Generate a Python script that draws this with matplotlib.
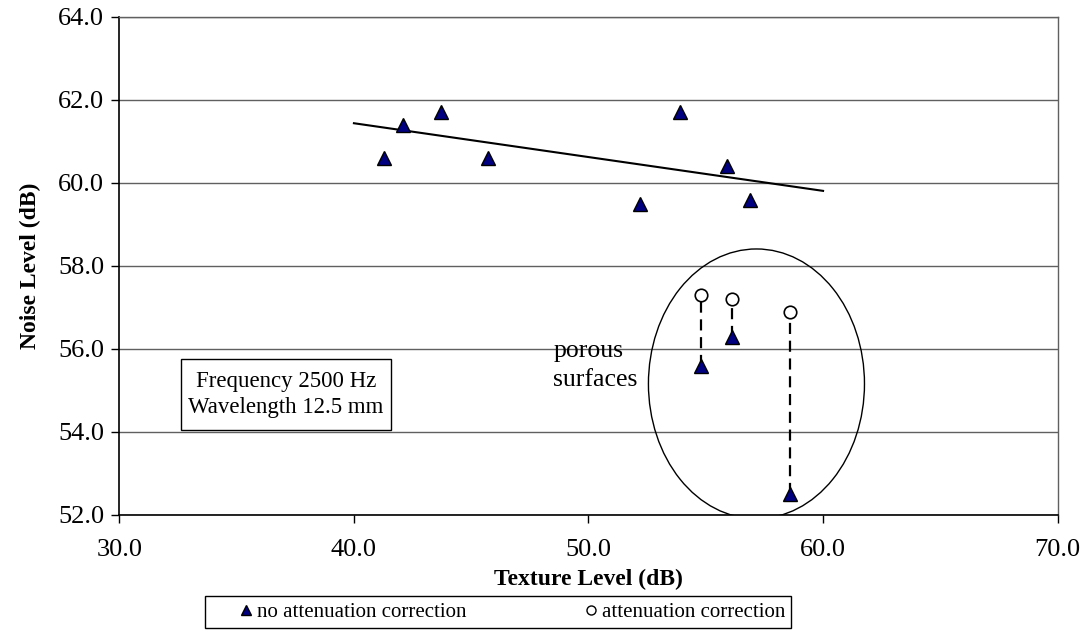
import numpy as np
import matplotlib.pyplot as plt
from matplotlib.patches import Ellipse, Rectangle
from matplotlib.lines import Line2D

plt.rcParams['font.family'] = ['Liberation Serif', 'DejaVu Serif']

# dense surfaces
texture = [41.3, 42.1, 43.7, 45.7, 52.2, 53.9, 55.9, 56.9]
noise = [60.6, 61.4, 61.7, 60.6, 59.5, 61.7, 60.4, 59.6]

# porous surfaces, measured and with attenuation correction
porous_texture = [54.8, 56.1, 58.6]
porous_noise = [55.6, 56.3, 52.5]
porous_noise_corr = [57.3, 57.2, 56.9]

# trend line for the dense surfaces
trend_x = [40.0, 60.0]
trend_y = [61.44, 59.81]

navy = '#000080'

fig = plt.figure(figsize=(10.88, 6.39), dpi=100)
ax = fig.add_axes([0.1097, 0.1941, 0.8624, 0.7793])

ax.set_xlim(30, 70)
ax.set_ylim(52, 64)
ax.set_xticks(np.arange(30, 71, 10))
ax.set_yticks(np.arange(52, 65, 2))
ax.xaxis.set_major_formatter('{x:.1f}')
ax.yaxis.set_major_formatter('{x:.1f}')
ax.tick_params(direction='out', length=6, width=1, colors='black', labelsize=19)
ax.tick_params(axis='x', pad=11.5)
ax.tick_params(axis='y', pad=5)

ax.grid(axis='y', color='#606060', lw=1.0, zorder=0)
for s in ['left', 'bottom']:
    ax.spines[s].set_linewidth(1.2)
for s in ['top', 'right']:
    ax.spines[s].set_color('#606060')
    ax.spines[s].set_linewidth(1.0)

# porous group
ax.add_patch(Ellipse((57.16, 55.16), 9.21, 6.5, fill=False, ec='black', lw=1.0, zorder=2))
ax.text(48.5, 55.6, 'porous\nsurfaces', ha='left', va='center', fontsize=18.5, linespacing=1.45)

ax.plot(trend_x, trend_y, color='black', lw=1.5, zorder=3)

for x, y0, y1 in zip(porous_texture, porous_noise, porous_noise_corr):
    ax.plot([x, x], [y0, y1], color='black', lw=1.6, dashes=(5, 3), zorder=3)

ax.plot(porous_texture, porous_noise_corr, ls='none', marker='o', ms=9,
        mfc='white', mec='black', mew=1.2, zorder=4)
ax.plot(texture + porous_texture, noise + porous_noise, ls='none', marker='^', ms=9.5,
        mfc=navy, mec='black', mew=1.0, zorder=5)

# info box
ax.add_patch(Rectangle((0.0654, 0.1707), 0.2238, 0.142, transform=ax.transAxes,
                       fill=False, ec='black', lw=1.0))
ax.text(0.1773, 0.2417, 'Frequency 2500 Hz\nWavelength 12.5 mm', transform=ax.transAxes,
        ha='center', va='center', fontsize=16.5, linespacing=1.35)

ax.set_xlabel('Texture Level (dB)', fontweight='bold', fontsize=17, labelpad=5.5)
ax.set_ylabel('Noise Level (dB)', fontweight='bold', fontsize=17, labelpad=12)

handles = [Line2D([], [], ls='none', marker='^', ms=7, mfc=navy, mec='black', mew=1.0),
           Line2D([], [], ls='none', marker='o', ms=6.5, mfc='white', mec='black', mew=1.0)]
leg = fig.legend(handles, ['no attenuation correction', 'attenuation correction'],
                 loc='center', bbox_to_anchor=(498 / 1088, 1 - 612 / 639), ncol=2,
                 frameon=True, fancybox=False, edgecolor='black', framealpha=1,
                 borderpad=0.3, handlelength=3.4, handletextpad=-1.2, columnspacing=4.3,
                 fontsize=15)
leg.get_frame().set_linewidth(1.0)

fig.savefig('out.png', dpi=100)
